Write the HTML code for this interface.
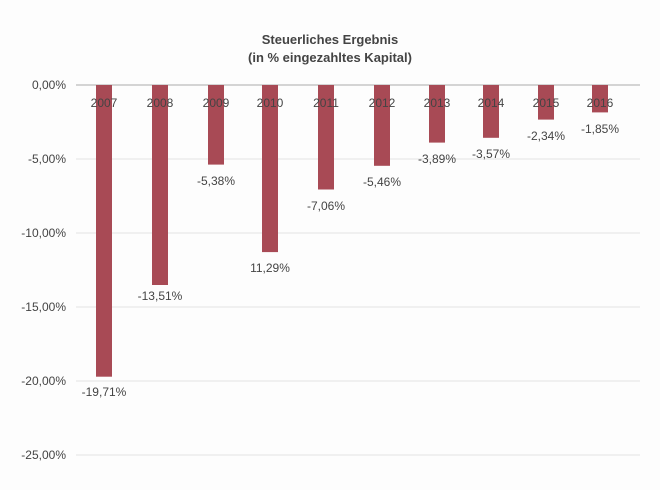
<!DOCTYPE html>
<html><head><meta charset="utf-8"><style>
body{margin:0;background:#fff;}
svg{display:block;font-family:"Liberation Sans",sans-serif;}
</style></head><body>
<svg width="660" height="490" viewBox="0 0 660 490">
<rect width="660" height="490" fill="#fdfdfd"/>
<text x="330" y="44" font-size="13" font-weight="bold" fill="#444" text-anchor="middle">Steuerliches Ergebnis</text>
<text x="330" y="62" font-size="13" font-weight="bold" fill="#444" text-anchor="middle">(in % eingezahltes Kapital)</text>
<g stroke="#e4e4e4" stroke-width="1">
<line x1="76" y1="159" x2="640" y2="159"/>
<line x1="76" y1="233" x2="640" y2="233"/>
<line x1="76" y1="307" x2="640" y2="307"/>
<line x1="76" y1="381" x2="640" y2="381"/>
<line x1="76" y1="455" x2="640" y2="455"/>
</g>
<line x1="76" y1="85" x2="640" y2="85" stroke="#aaa"/>
<g font-size="12" fill="#444" text-anchor="end">
<text x="66" y="89">0,00%</text>
<text x="66" y="163">-5,00%</text>
<text x="66" y="237">-10,00%</text>
<text x="66" y="311">-15,00%</text>
<text x="66" y="385">-20,00%</text>
<text x="66" y="459">-25,00%</text>
</g>
<g fill="#a84a55">
<rect x="96" y="85" width="16" height="291.7"/>
<rect x="152" y="85" width="16" height="200"/>
<rect x="208" y="85" width="16" height="79.6"/>
<rect x="262" y="85" width="16" height="167.1"/>
<rect x="318" y="85" width="16" height="104.5"/>
<rect x="374" y="85" width="16" height="80.8"/>
<rect x="429" y="85" width="16" height="57.6"/>
<rect x="483" y="85" width="16" height="52.8"/>
<rect x="538" y="85" width="16" height="34.6"/>
<rect x="592" y="85" width="16" height="27.4"/>
</g>
<g font-size="12" fill="#444" text-anchor="middle">
<text x="104" y="107">2007</text><text x="160" y="107">2008</text><text x="216" y="107">2009</text>
<text x="270" y="107">2010</text><text x="326" y="107">2011</text><text x="382" y="107">2012</text>
<text x="437" y="107">2013</text><text x="491" y="107">2014</text><text x="546" y="107">2015</text>
<text x="600" y="107">2016</text>
<text x="104" y="396">-19,71%</text>
<text x="160" y="300">-13,51%</text>
<text x="216" y="185">-5,38%</text>
<text x="270" y="272">11,29%</text>
<text x="326" y="210">-7,06%</text>
<text x="382" y="186">-5,46%</text>
<text x="437" y="163">-3,89%</text>
<text x="491" y="158">-3,57%</text>
<text x="546" y="140">-2,34%</text>
<text x="600" y="133">-1,85%</text>
</g>
</svg>
</body></html>
